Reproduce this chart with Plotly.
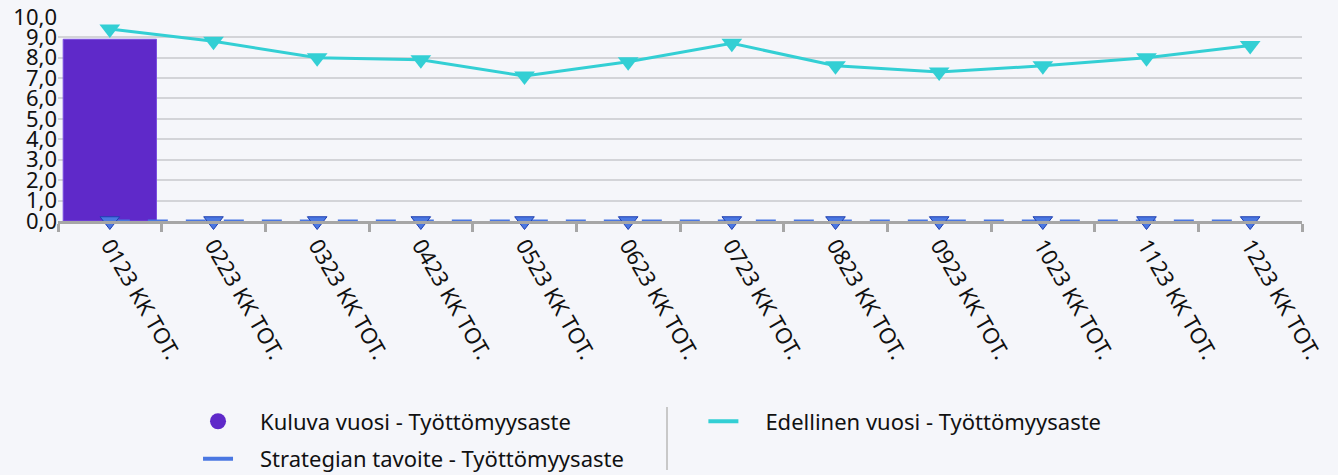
import plotly.graph_objects as go

categories = ["0123 KK TOT.", "0223 KK TOT.", "0323 KK TOT.", "0423 KK TOT.", "0523 KK TOT.",
              "0623 KK TOT.", "0723 KK TOT.", "0823 KK TOT.", "0923 KK TOT.", "1023 KK TOT.",
              "1123 KK TOT.", "1223 KK TOT."]
kuluva = [8.9, None, None, None, None, None, None, None, None, None, None, None]
strategia = [0, 0, 0, 0, 0, 0, 0, 0, 0, 0, 0, 0]
edellinen = [9.4, 8.8, 8.0, 7.9, 7.1, 7.8, 8.7, 7.6, 7.3, 7.6, 8.0, 8.6]
y_ticks = [0, 1, 2, 3, 4, 5, 6, 7, 8, 9, 10]

names = ["Kuluva vuosi - Työttömyysaste",
         "Strategian tavoite - Työttömyysaste",
         "Edellinen vuosi - Työttömyysaste"]

BG = "#f5f6fa"
FONT = "Noto Sans"
PURPLE = "#5f29c9"
BLUE = "#4a77e2"
CYAN = "#33cfd4"
PAD = "\u2002\u2002"

fig = go.Figure()
fig.add_trace(go.Bar(
    x=categories, y=kuluva, name=names[0], showlegend=False,
    marker=dict(color=PURPLE, line=dict(color="#7a4ee0", width=1)),
    width=0.9,
))
fig.add_trace(go.Scatter(
    x=categories, y=strategia, name=names[1], showlegend=False,
    mode="lines+markers", cliponaxis=False,
    line=dict(color=BLUE, width=3, dash="20px,18px"),
    marker=dict(symbol="triangle-down", size=17, color=BLUE,
                line=dict(color="#1f3fb0", width=1)),
))
fig.add_trace(go.Scatter(
    x=categories, y=edellinen, name=names[2], showlegend=False,
    mode="lines+markers", cliponaxis=False,
    line=dict(color=CYAN, width=3),
    marker=dict(symbol="triangle-down", size=18, color=CYAN),
))

# legend entries
fig.add_trace(go.Scatter(
    x=[None], y=[None], name=PAD + names[0], mode="markers",
    marker=dict(symbol="circle", size=22, color=PURPLE),
    legend="legend", legendgroup="a",
))
fig.add_trace(go.Scatter(
    x=[None], y=[None], name=PAD + names[1], mode="lines",
    line=dict(color=BLUE, width=4),
    legend="legend", legendgroup="b",
))
fig.add_trace(go.Scatter(
    x=[None], y=[None], name=PAD + names[2], mode="lines",
    line=dict(color=CYAN, width=4),
    legend="legend2", legendgroup="c",
))

fig.update_layout(
    width=1338, height=475,
    margin=dict(l=58, r=36, t=16, b=254, autoexpand=False),
    paper_bgcolor=BG, plot_bgcolor=BG,
    font=dict(family=FONT, size=22, color="#111111"),
    separators=",.",
    legend=dict(
        xref="container", yref="container", x=0.148, y=0.157,
        xanchor="left", yanchor="top", orientation="v",
        bgcolor="rgba(0,0,0,0)", font=dict(size=22),
        tracegroupgap=6,
    ),
    legend2=dict(
        xref="container", yref="container", x=0.5257, y=0.157,
        xanchor="left", yanchor="top", orientation="v",
        bgcolor="rgba(0,0,0,0)", font=dict(size=22),
    ),
    shapes=[dict(type="line", xref="paper", yref="paper",
                 x0=(667 - 58) / 1244, x1=(667 - 58) / 1244,
                 y0=(221 - 407) / 205, y1=(221 - 470) / 205,
                 line=dict(color="#c8c8c8", width=2))],
)
fig.update_xaxes(
    type="category", tickangle=60, tickson="boundaries", ticks="outside",
    ticklen=8, tickwidth=3, tickcolor="#a6a6a6",
    showline=True, linecolor="#a6a6a6", linewidth=3,
    showgrid=False, tickfont=dict(size=22), range=[-0.5, 11.5],
)
fig.update_yaxes(
    range=[0, 10.04], tickvals=y_ticks, tickformat=".1f",
    showgrid=True, gridcolor="#d3d4d8", gridwidth=2,
    zeroline=False, ticks="", tickfont=dict(size=22),
)
fig.write_html(
    "out.html",
    config={"displayModeBar": False},
    post_script="document.body.style.margin='0';document.body.style.background='%s';" % BG,
)
